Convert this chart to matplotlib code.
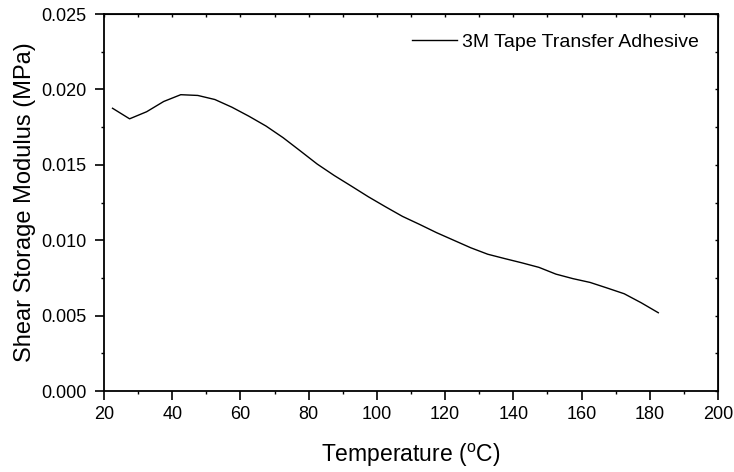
import matplotlib
matplotlib.use('Agg')
from matplotlib import pyplot as plt
from matplotlib.ticker import MultipleLocator

temperature = [22.5, 27.5, 32.5, 37.5, 42.5, 47.5, 52.5, 57.5, 62.5, 67.5,
               72.5, 77.5, 82.5, 87.5, 92.5, 97.5, 102.5, 107.5, 112.5, 117.5,
               122.5, 127.5, 132.5, 137.5, 142.5, 147.5, 152.5, 157.5, 162.5,
               167.5, 172.5, 177.5, 182.5]
modulus = [0.01875, 0.01805, 0.01852, 0.01920, 0.01965, 0.01960, 0.01933,
           0.01882, 0.01822, 0.01757, 0.01680, 0.01593, 0.01505, 0.01429,
           0.01359, 0.01288, 0.01222, 0.01158, 0.01105, 0.01050, 0.01000,
           0.00950, 0.00907, 0.00878, 0.00850, 0.00820, 0.00775, 0.00745,
           0.00720, 0.00683, 0.00645, 0.00585, 0.00519]
series_label = '3M Tape Transfer Adhesive'

plt.rcParams['font.family'] = ['Liberation Sans', 'DejaVu Sans']

fig = plt.figure(figsize=(7.34, 4.72), dpi=100)
ax = fig.add_axes([0.1417, 0.1716, 0.8365, 0.7987])
ax.plot(temperature, modulus, c='black', lw=1.0, label=series_label)

ax.set_xlim(20, 200)
ax.set_ylim(0, 0.025)
ax.xaxis.set_major_locator(MultipleLocator(20))
ax.xaxis.set_minor_locator(MultipleLocator(10))
ax.yaxis.set_major_locator(MultipleLocator(0.005))
ax.yaxis.set_minor_locator(MultipleLocator(0.0025))
ax.yaxis.set_major_formatter(plt.FormatStrFormatter('%.3f'))

for s in ax.spines.values():
    s.set_linewidth(1.3)

ax.tick_params(axis='both', which='major', direction='out', length=6.5,
               width=1.2, labelsize=13)
ax.tick_params(axis='x', which='major', pad=4)
ax.tick_params(axis='y', which='major', pad=6)
ax.tick_params(axis='both', which='minor', direction='out', length=2.5,
               width=1.0)
# mirrored ticks on top and right, short and inward, no labels
top = ax.secondary_xaxis('top')
top.set_xticks(ax.get_xticks())
top.xaxis.set_minor_locator(MultipleLocator(10))
top.tick_params(which='both', direction='in', length=2.5, width=1.0,
                labeltop=False)
right = ax.secondary_yaxis('right')
right.yaxis.set_major_locator(MultipleLocator(0.005))
right.yaxis.set_minor_locator(MultipleLocator(0.0025))
right.tick_params(which='both', direction='in', length=2.5, width=1.0,
                  labelright=False)

ax.set_xlabel('Temperature ($\\mathregular{^{o}}$C)', fontsize=16.5,
              labelpad=14)
ax.set_ylabel('Shear Storage Modulus (MPa)', fontsize=17, labelpad=4)

ax.legend(loc='upper right', frameon=False, fontsize=14, handlelength=2.3,
          handletextpad=0.25, borderaxespad=0.6)

fig.savefig('out.png', dpi=100)
